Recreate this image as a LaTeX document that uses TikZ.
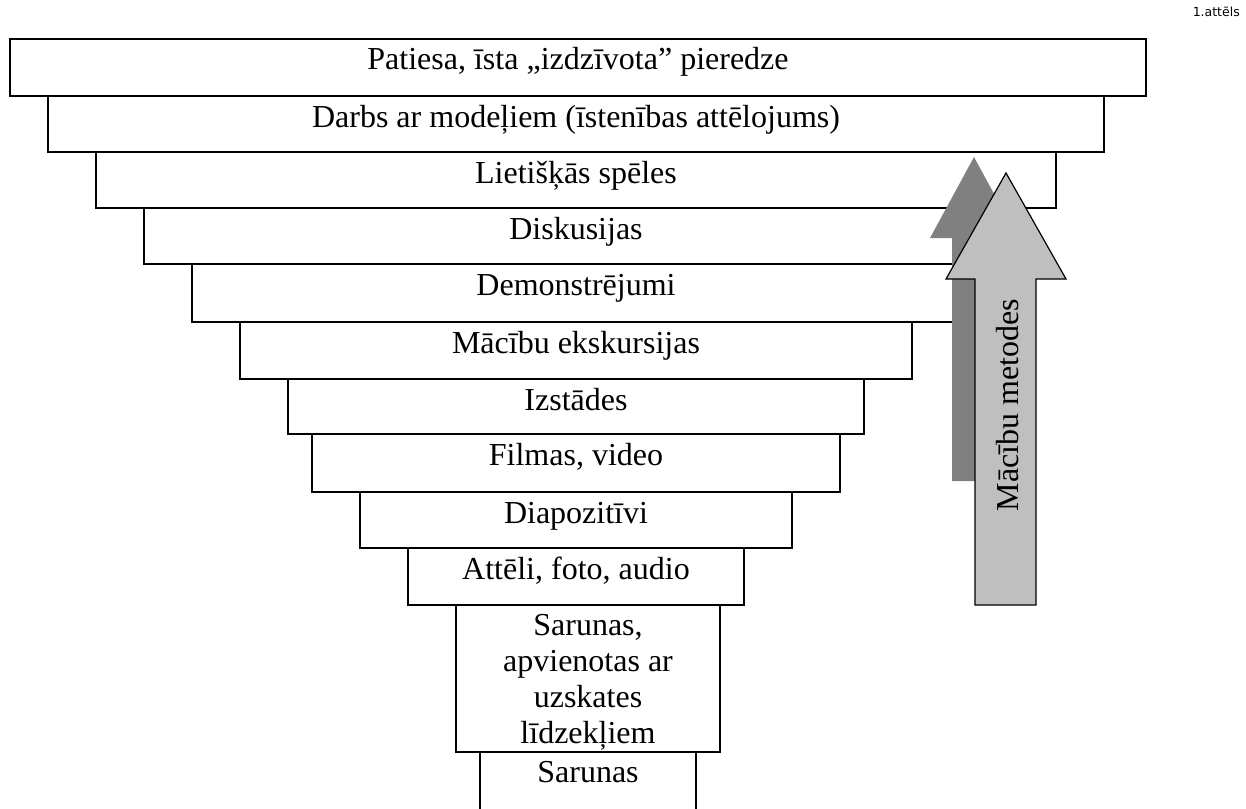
\documentclass[tikz,border=0pt]{standalone}
\usepackage{fontspec}
\setmainfont{Liberation Serif}
\newfontfamily\capfont{DejaVu Sans}
\newcommand\pyrbox[6]{%
  \node[pbox,minimum width={#3-#2},minimum height={#5-#4}] (#1) at ({(#2+#3)/2},{(#4+#5)/2}) {};
  \node[lbl] (#1t) at ({(#2+#3)/2},{#4+31}) {#6};}
\begin{document}
\begin{tikzpicture}[x=1pt,y=-1pt,
  pbox/.style={draw=black,fill=white,line width=2.4pt,inner sep=0pt,rectangle},
  lbl/.style={anchor=base,inner sep=0pt,font=\fontsize{32}{36}\selectfont,align=center},
  darkarrow/.style={fill=black!50},
  lightarrow/.style={fill=black!25,draw=black,line width=1.2pt,line join=miter}]
\useasboundingbox (0,0) rectangle (1246,808);
\node[anchor=base east,inner sep=0pt,font=\capfont\fontsize{12.5}{14}\selectfont] (fig) at (1240,17) {1.attēls};
\pyrbox{b1}{10}{1146}{39}{96}{Patiesa, īsta „izdzīvota” pieredze}
\pyrbox{b2}{48}{1104}{96}{152}{Darbs ar modeļiem (īstenības attēlojums)}
\pyrbox{b3}{96}{1056}{152}{208}{Lietišķās spēles}
\pyrbox{b4}{144}{1008}{208}{264}{Diskusijas}
\pyrbox{b5}{192}{960}{264}{322}{Demonstrējumi}
\pyrbox{b6}{240}{912}{322}{379}{Mācību ekskursijas}
\pyrbox{b7}{288}{864}{379}{434}{Izstādes}
\pyrbox{b8}{312}{840}{434}{492}{Filmas, video}
\pyrbox{b9}{360}{792}{492}{548}{Diapozitīvi}
\pyrbox{b10}{408}{744}{548}{605}{Attēli, foto, audio}
\node[pbox,minimum width=264,minimum height=147] (b11) at (588,678.5) {};
\node[lbl] (b11t) at (588,743) {Sarunas,\\ apvienotas ar\\ uzskates\\ līdzekļiem};
\node[pbox,minimum width=216,minimum height=78] (b12) at (588,791) {};
\node[lbl] (b12t) at (588,782) {Sarunas};
\fill[darkarrow] (974,157) -- (1018,238) -- (996,238) -- (996,481) -- (952,481) -- (952,238) -- (930,238) -- cycle;
\draw[lightarrow] (1006,173) -- (1066,279) -- (1036,279) -- (1036,605) -- (975,605) -- (975,279) -- (946,279) -- cycle;
\node[lbl,rotate=90] (arrowtext) at (1018,405) {Mācību metodes};
\end{tikzpicture}
\end{document}
